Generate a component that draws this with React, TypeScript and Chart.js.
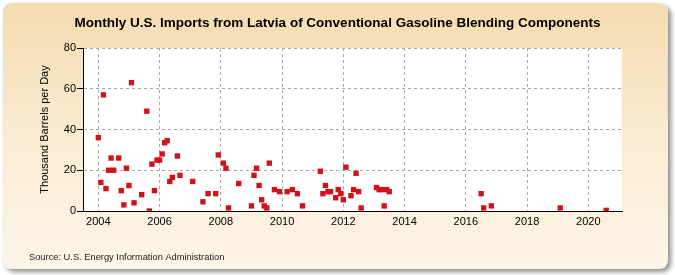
import React, { useEffect, useRef } from 'react';
import { Chart, registerables } from 'chart.js';

Chart.register(...registerables);

// Monthly observations (year-month) and import volumes, thousand barrels per day
const months = [
  '2004-01', '2004-02', '2004-03', '2004-04', '2004-05', '2004-06', '2004-07',
  '2004-09', '2004-10', '2004-11', '2004-12',
  '2005-01', '2005-02', '2005-03', '2005-06', '2005-08', '2005-09', '2005-10',
  '2005-11', '2005-12',
  '2006-01', '2006-02', '2006-03', '2006-04', '2006-05', '2006-06', '2006-08', '2006-09',
  '2007-02', '2007-06', '2007-08', '2007-11', '2007-12',
  '2008-02', '2008-03', '2008-04', '2008-08',
  '2009-01', '2009-02', '2009-03', '2009-04', '2009-05', '2009-06', '2009-07',
  '2009-08', '2009-10', '2009-12',
  '2010-03', '2010-05', '2010-07', '2010-09',
  '2011-04', '2011-05', '2011-06', '2011-07', '2011-08', '2011-10', '2011-11', '2011-12',
  '2012-01', '2012-02', '2012-04', '2012-05', '2012-06', '2012-07', '2012-08',
  '2013-02', '2013-03', '2013-04', '2013-05', '2013-06', '2013-07',
  '2016-07', '2016-08', '2016-11',
  '2019-02',
  '2020-08',
];

const values = [
  36, 14, 57, 11, 20, 26, 20,
  26, 10, 3, 21,
  12.5, 63, 4, 8, 49, 0, 23,
  10, 25,
  25, 28, 33.5, 34.5, 14.5, 16.5, 27, 17.5,
  14.5, 4.5, 8.5, 8.5, 27.5,
  23.5, 21, 1.5, 13.5,
  2.5, 17.5, 21, 12.5, 5.5, 2.5, 1.5,
  23.5, 10.5, 9.5,
  9.5, 10.5, 8.5, 2.5,
  19.5, 8.5, 12.5, 9.5, 9.5, 6.5, 10.5, 8.5,
  5.5, 21.5, 7.5, 10.5, 18.5, 9.5, 1.5,
  11.5, 10.5, 10.5, 2.5, 10.5, 9.5,
  8.5, 1.5, 2.5,
  1.5,
  0.3,
];

const xTickYears = [2004, 2006, 2008, 2010, 2012, 2014, 2016, 2018, 2020];
const yTickValues = [0, 20, 40, 60, 80];

const titleText = 'Monthly U.S. Imports from Latvia of Conventional Gasoline Blending Components';
const yAxisTitle = 'Thousand Barrels per Day';
const sourceText = 'Source: U.S. Energy Information Administration';

const FONT = '"Liberation Sans", Arial, Helvetica, sans-serif';

// Card background, chart-area fill and the surrounding text
const framePlugin = {
  id: 'frame',
  beforeDraw(chart: any) {
    const { ctx, width, height, chartArea } = chart;
    ctx.save();
    ctx.fillStyle = '#ffffff';
    ctx.fillRect(0, 0, width, height);

    const x = 3, y = 3, w = width - 10, h = height - 9, r = 10;
    const roundRect = () => {
      ctx.beginPath();
      ctx.moveTo(x + r, y);
      ctx.lineTo(x + w - r, y);
      ctx.quadraticCurveTo(x + w, y, x + w, y + r);
      ctx.lineTo(x + w, y + h - r);
      ctx.quadraticCurveTo(x + w, y + h, x + w - r, y + h);
      ctx.lineTo(x + r, y + h);
      ctx.quadraticCurveTo(x, y + h, x, y + h - r);
      ctx.lineTo(x, y + r);
      ctx.quadraticCurveTo(x, y, x + r, y);
      ctx.closePath();
    };

    ctx.save();
    ctx.shadowColor = 'rgba(0,0,0,0.45)';
    ctx.shadowBlur = 5;
    ctx.shadowOffsetX = 3;
    ctx.shadowOffsetY = 3;
    roundRect();
    ctx.fillStyle = '#f6e2bd';
    ctx.fill();
    ctx.restore();

    const grad = ctx.createLinearGradient(0, y, 0, y + h);
    grad.addColorStop(0, '#f4dcb0');
    grad.addColorStop(0.55, '#faecd4');
    grad.addColorStop(1, '#fdf5e8');
    roundRect();
    ctx.fillStyle = grad;
    ctx.fill();

    ctx.fillStyle = '#ffffff';
    ctx.fillRect(chartArea.left, chartArea.top, chartArea.right - chartArea.left, chartArea.bottom - chartArea.top);

    ctx.fillStyle = '#000000';
    ctx.font = `bold 13.5px ${FONT}`;
    ctx.textAlign = 'center';
    ctx.textBaseline = 'middle';
    ctx.fillText(titleText, width / 2, 23);

    ctx.font = `11px ${FONT}`;
    ctx.save();
    ctx.translate(45, (chartArea.top + chartArea.bottom) / 2);
    ctx.rotate(-Math.PI / 2);
    ctx.fillText(yAxisTitle, 0, 0);
    ctx.restore();

    ctx.font = `9.3px ${FONT}`;
    ctx.textAlign = 'left';
    ctx.fillStyle = '#222222';
    ctx.fillText(sourceText, 29, 257);
    ctx.restore();
  },
};

export default function App() {
  const canvasRef = useRef<HTMLCanvasElement | null>(null);

  useEffect(() => {
    const canvas = canvasRef.current;
    if (!canvas) return;

    const points = months.map((m, i) => ({
      x: Number(m.slice(0, 4)) + (Number(m.slice(5, 7)) - 1) / 12,
      y: values[i],
    }));

    const chart = new Chart(canvas, {
      type: 'scatter',
      data: {
        datasets: [
          {
            data: points,
            pointStyle: 'rect',
            pointRadius: 3.8,
            pointBorderWidth: 0,
            pointBackgroundColor: '#d0121b',
            pointBorderColor: '#d0121b',
          },
        ],
      },
      options: {
        responsive: false,
        animation: false,
        devicePixelRatio: 1,
        layout: { padding: { left: 0, right: 53, top: 48, bottom: 44 } },
        plugins: {
          legend: { display: false },
          title: { display: false },
          tooltip: { enabled: false },
        },
        scales: {
          x: {
            type: 'linear',
            min: 2003.5,
            max: 2021.1,
            afterBuildTicks: (scale: any) => {
              scale.ticks = xTickYears.map((v) => ({ value: v }));
            },
            afterFit: (scale: any) => {
              scale.height = 20;
            },
            ticks: {
              autoSkip: false,
              maxRotation: 0,
              padding: 4,
              color: '#000000',
              font: { family: FONT, size: 11 },
              callback: (v: any) => String(v),
            },
            grid: {
              color: '#a8a8a8',
              lineWidth: 1,
              drawTicks: false,
            },
            border: { display: true, color: '#000000', width: 1, dash: [3, 3] },
          },
          y: {
            min: 0,
            max: 80,
            afterBuildTicks: (scale: any) => {
              scale.ticks = yTickValues.map((v) => ({ value: v }));
            },
            afterFit: (scale: any) => {
              scale.width = 83;
            },
            ticks: {
              padding: 1,
              color: '#000000',
              font: { family: FONT, size: 11 },
            },
            grid: {
              color: '#a8a8a8',
              lineWidth: 1,
              drawTicks: true,
              tickLength: 6,
              tickColor: '#000000',
              tickBorderDash: [],
            },
            border: { display: true, color: '#000000', width: 1, dash: [3, 3] },
          },
        },
      },
      plugins: [framePlugin],
    });

    return () => chart.destroy();
  }, []);

  return (
    <div style={{ position: 'absolute', left: 0, top: 0, width: 675, height: 275 }}>
      <canvas ref={canvasRef} width={675} height={275} style={{ display: 'block', width: 675, height: 275 }} />
    </div>
  );
}
